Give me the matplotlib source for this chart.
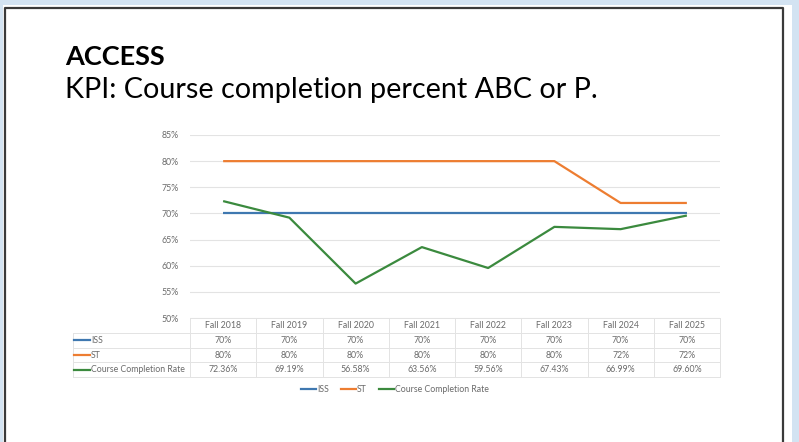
import matplotlib
matplotlib.use("Agg")
import matplotlib.pyplot as plt
import matplotlib.transforms as mtransforms
from matplotlib.patches import Rectangle
from matplotlib.lines import Line2D

# ---------------------------------------------------------------- data
terms = ["Fall 2018", "Fall 2019", "Fall 2020", "Fall 2021",
         "Fall 2022", "Fall 2023", "Fall 2024", "Fall 2025"]
iss = [70, 70, 70, 70, 70, 70, 70, 70]
st = [80, 80, 80, 80, 80, 80, 72, 72]
completion = [72.36, 69.19, 56.58, 63.56, 59.56, 67.43, 66.99, 69.60]
yticks = [50, 55, 60, 65, 70, 75, 80, 85]

series = [
    ("ISS", iss, "#3f78b0", lambda v: f"{v:.0f}%"),
    ("ST", st, "#ed7d31", lambda v: f"{v:.0f}%"),
    ("Course Completion Rate", completion, "#3b8a3e", lambda v: f"{v:.2f}%"),
]

W, H = 799, 442
FONT = "Lato"
GREY = "#6a6a6a"
GRID = "#e3e3e3"
FS = 6.3

fig = plt.figure(figsize=(W / 100, H / 100), dpi=100, facecolor="#d3e3f2")

# slide background + frame (pixel coords -> figure fraction)
def fx(px): return px / W
def fy(py): return 1 - py / H

fig.patches.append(Rectangle((fx(3), 0), fx(789), fy(5), transform=fig.transFigure,
                             facecolor="white", edgecolor="none", zorder=-5))
frame = [(5, 445), (5, 8), (783, 8), (783, 445)]
fig.add_artist(Line2D([fx(p[0]) for p in frame], [fy(p[1]) for p in frame],
                      transform=fig.transFigure, color="#3a3a3a", lw=1.6, zorder=-4))

# titles
fig.text(fx(65), fy(65), "ACCESS", fontsize=19.5, fontweight="bold", family=FONT,
         color="black", va="baseline", ha="left")
fig.text(fx(65), fy(98), "KPI: Course completion percent ABC or P.", fontsize=20.7,
         family=FONT, color="black", va="baseline", ha="left")

# ---------------------------------------------------------------- chart
x0, x1, ytop, ybot = 190, 720, 135, 318
ax = fig.add_axes([fx(x0), fy(ybot), fx(x1 - x0), (ybot - ytop) / H])
ax.set_zorder(2)
ax.set_facecolor("none")
xs = range(len(terms))
for name, vals, col, _ in series:
    ax.plot(xs, vals, color=col, lw=1.6, solid_capstyle="butt", zorder=3)

ax.set_xlim(-0.5, len(terms) - 0.5)
ax.set_ylim(50, 85)
ax.set_yticks(yticks)
ax.set_yticklabels([f"{v}%" for v in yticks], fontsize=FS, color=GREY, family=FONT)
ax.tick_params(axis="y", length=0, pad=8)
ax.set_xticks([])
ax.grid(axis="y", color=GRID, lw=0.8)
for s in ax.spines.values():
    s.set_visible(False)

# ---------------------------------------------------------------- data table
tr = mtransforms.blended_transform_factory(ax.transData, ax.transAxes)
row_h = 14.8 / (ybot - ytop)
left = -0.5 - (x0 - 73) / ((x1 - x0) / len(terms))
nrows = len(series) + 1
line_kw = dict(transform=tr, color=GRID, lw=0.7, clip_on=False)

for i in range(len(terms) + 1):
    ax.plot([i - 0.5, i - 0.5], [0, -nrows * row_h], **line_kw)
ax.plot([left, left], [-row_h, -nrows * row_h], **line_kw)
ax.plot([-0.5, len(terms) - 0.5], [0, 0], **line_kw)
for r in range(1, nrows + 1):
    ax.plot([left, len(terms) - 0.5], [-r * row_h, -r * row_h], **line_kw)

txt_kw = dict(transform=tr, fontsize=FS, color=GREY, family=FONT,
              ha="center", va="center", clip_on=False)
for j, t in enumerate(terms):
    ax.text(j, -0.5 * row_h, t, **txt_kw)
for r, (name, vals, col, fmt) in enumerate(series, start=1):
    yc = -(r + 0.5) * row_h
    ax.plot([left + 0.02, left + 0.26], [yc, yc], transform=tr, color=col,
            lw=1.6, clip_on=False)
    ax.text(left + 0.27, yc, name, **{**txt_kw, "ha": "left"})
    for j, v in enumerate(vals):
        ax.text(j, yc, fmt(v), **txt_kw)

# legend below the table
handles = [Line2D([], [], color=col, lw=1.6) for _, _, col, _ in series]
fig.legend(handles, [s[0] for s in series], loc="center", ncol=3,
           bbox_to_anchor=(fx(395), fy(390)), frameon=False,
           prop={"family": FONT, "size": FS}, labelcolor=GREY,
           handlelength=1.7, handletextpad=0.1, columnspacing=1.4)

fig.savefig("out.png", dpi=100, facecolor=fig.get_facecolor())
